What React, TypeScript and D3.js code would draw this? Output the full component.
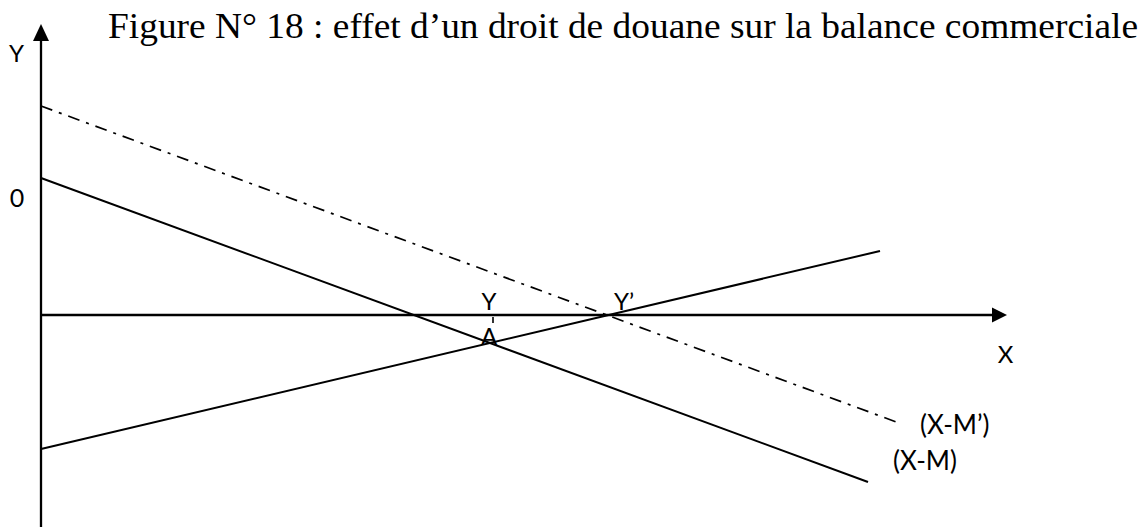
import React from "react";
import * as d3 from "d3";

// Data (abstract units: 1 unit = 10px)
const titleText = "Figure N° 18 : effet d’un droit de douane sur la balance commerciale";
const lineXM: [number, number][] = [[0, 13.7], [82.7, -16.7]];
const lineXMprime: [number, number][] = [[0, 20.9], [85.8, -10.8]];
const lineRising: [number, number][] = [[0, -13.4], [83.9, 6.4]];
const pointA: [number, number] = [44.9, -2.8];
const pointYprime: [number, number] = [56.7, 0];
const axisLabels = { y: "Y", x: "X", zero: "0" };
const lineLabels = { xm: "(X-M)", xmp: "(X-M’)" };

const W = 1142;
const H = 527;

export default function App() {
  const x = d3.scaleLinear().domain([0, 96.6]).range([41, 1007]);
  const y = d3.scaleLinear().domain([-21.2, 29.1]).range([527, 24]);
  const line = d3
    .line<[number, number]>()
    .x((d) => x(d[0]))
    .y((d) => y(d[1]));

  const x0 = x(0);
  const y0 = y(0);
  const yTop = y(29.1);
  const xEnd = x(96.6);
  const sans = "Lato, 'Open Sans', sans-serif";
  const fs = 24;

  return (
    <svg
      width={W}
      height={H}
      style={{ position: "absolute", left: 0, top: 0, background: "#fff" }}
    >
      <rect x={0} y={0} width={W} height={H} fill="#fff" />
      {/* Title */}
      <text
        x={108}
        y={38}
        fontFamily="'Liberation Serif', 'Times New Roman', serif"
        fontSize={36}
        textLength={1030}
        lengthAdjust="spacingAndGlyphs"
        fill="#000"
      >
        {titleText}
      </text>

      {/* Y axis */}
      <line x1={x0} y1={H} x2={x0} y2={yTop + 15} stroke="#000" strokeWidth={2.3} />
      <path
        d={`M${x0},${yTop} L${x0 - 8},${yTop + 17} L${x0 + 8},${yTop + 17} Z`}
        fill="#000"
      />
      {/* X axis */}
      <line x1={x0} y1={y0} x2={xEnd - 12} y2={y0} stroke="#000" strokeWidth={2.5} />
      <path
        d={`M${xEnd},${y0} L${xEnd - 15},${y0 - 7.5} L${xEnd - 15},${y0 + 7.5} Z`}
        fill="#000"
      />

      {/* Lines */}
      <path d={line(lineXM) || ""} stroke="#000" strokeWidth={2} fill="none" />
      <path d={line(lineRising) || ""} stroke="#000" strokeWidth={2} fill="none" />
      <path
        d={line(lineXMprime) || ""}
        stroke="#000"
        strokeWidth={1.7}
        fill="none"
        strokeDasharray="12 7 3 7"
      />

      {/* small tick at Y */}
      <line
        x1={x(pointA[0]) + 3}
        x2={x(pointA[0]) + 3}
        y1={y0 + 2}
        y2={y0 + 8}
        stroke="#000"
        strokeWidth={1.6}
      />

      {/* Labels */}
      <g fontFamily={sans} fontSize={fs} fill="#000" textAnchor="middle">
        <text x={16.5} y={62}>{axisLabels.y}</text>
        <text x={17} y={207} fontSize={25}>{axisLabels.zero}</text>
        <text x={1005.5} y={363}>{axisLabels.x}</text>
        <text x={x(pointA[0]) - 1} y={y0 - 5}>{axisLabels.y}</text>
        <text x={x(pointA[0]) - 1} y={y(pointA[1]) + 2}>A</text>
      </g>
      <g fontFamily={sans} fontSize={26} fill="#000">
        <text x={x(pointYprime[0]) + 6} y={y0 - 5} fontSize={24}>Y’</text>
        <text x={920} y={434}>{lineLabels.xmp}</text>
        <text x={893} y={470}>{lineLabels.xm}</text>
      </g>
    </svg>
  );
}
